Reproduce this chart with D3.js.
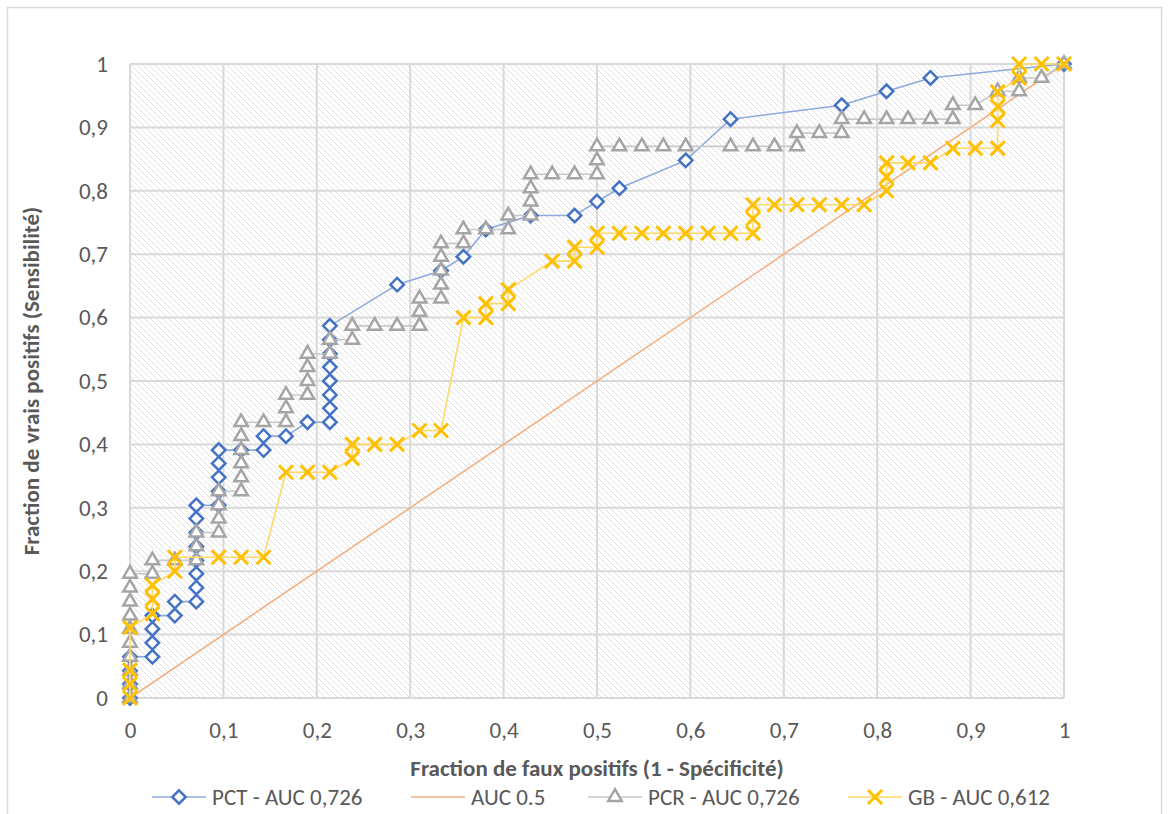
<!DOCTYPE html>
<html lang="fr">
  <head>
    <meta charset="UTF-8" />
    <title>Courbes ROC</title>
    <style>
      body { margin: 0; background: #fff; }
      svg { display: block; font-family: Carlito, Calibri, Lato, sans-serif; }
    </style>
    <script src="https://d3js.org/d3.v7.min.js"></script>
  </head>
  <body>
  <script>
    // tick labels (french decimal comma)
    const tickVals = [0, 0.1, 0.2, 0.3, 0.4, 0.5, 0.6, 0.7, 0.8, 0.9, 1]
    const tickLabels = ["0", "0,1", "0,2", "0,3", "0,4", "0,5", "0,6", "0,7", "0,8", "0,9", "1"]

    const seriesNames = ["PCT - AUC 0,726", "AUC 0.5", "PCR - AUC 0,726", "GB - AUC 0,612"]

    // PCT (blue diamonds)
    const pctX = [0, 0, 0, 0, 0.024, 0.024, 0.024, 0.024, 0.048, 0.048, 0.071, 0.071, 0.071, 0.071, 0.071, 0.071, 0.071, 0.071,
      0.095, 0.095, 0.095, 0.095, 0.095, 0.119, 0.143, 0.143, 0.167, 0.190, 0.214, 0.214, 0.214, 0.214, 0.214, 0.214, 0.214, 0.214,
      0.286, 0.333, 0.357, 0.381, 0.429, 0.476, 0.500, 0.524, 0.595, 0.643, 0.762, 0.810, 0.857, 1]
    const pctY = [0, 0.022, 0.043, 0.065, 0.065, 0.087, 0.109, 0.130, 0.130, 0.152, 0.152, 0.174, 0.196, 0.217, 0.239, 0.261, 0.283, 0.304,
      0.304, 0.326, 0.348, 0.370, 0.391, 0.391, 0.391, 0.413, 0.413, 0.435, 0.435, 0.457, 0.478, 0.500, 0.522, 0.543, 0.565, 0.587,
      0.652, 0.674, 0.696, 0.739, 0.761, 0.761, 0.783, 0.804, 0.848, 0.913, 0.935, 0.957, 0.978, 1]

    // random classifier
    const aucX = [0, 1]
    const aucY = [0, 1]

    // PCR (grey triangles)
    const pcrX = [0, 0, 0, 0, 0, 0, 0, 0, 0, 0, 0.024, 0.024, 0.048, 0.071, 0.071, 0.071, 0.095, 0.095, 0.095, 0.095,
      0.119, 0.119, 0.119, 0.119, 0.119, 0.119, 0.143, 0.167, 0.167, 0.167, 0.190, 0.190, 0.190, 0.190, 0.214, 0.214,
      0.238, 0.238, 0.262, 0.286, 0.310, 0.310, 0.310, 0.333, 0.333, 0.333, 0.333, 0.333, 0.357, 0.357, 0.381, 0.405, 0.405,
      0.429, 0.429, 0.429, 0.429, 0.452, 0.476, 0.500, 0.500, 0.500, 0.524, 0.548, 0.571, 0.595, 0.643, 0.667, 0.690, 0.714,
      0.714, 0.738, 0.762, 0.762, 0.786, 0.810, 0.833, 0.857, 0.881, 0.881, 0.905, 0.929, 0.952, 0.952, 0.976, 1]
    const pcrY = [0, 0.022, 0.043, 0.065, 0.087, 0.109, 0.130, 0.152, 0.174, 0.196, 0.196, 0.217, 0.217, 0.217, 0.239, 0.261, 0.261, 0.283, 0.304, 0.326,
      0.326, 0.348, 0.370, 0.391, 0.413, 0.435, 0.435, 0.435, 0.457, 0.478, 0.478, 0.500, 0.522, 0.543, 0.543, 0.565,
      0.565, 0.587, 0.587, 0.587, 0.587, 0.609, 0.630, 0.630, 0.652, 0.674, 0.696, 0.717, 0.717, 0.739, 0.739, 0.739, 0.761,
      0.761, 0.783, 0.804, 0.826, 0.826, 0.826, 0.826, 0.848, 0.870, 0.870, 0.870, 0.870, 0.870, 0.870, 0.870, 0.870, 0.870,
      0.891, 0.891, 0.891, 0.913, 0.913, 0.913, 0.913, 0.913, 0.913, 0.935, 0.935, 0.957, 0.957, 0.978, 0.978, 1]

    // GB (yellow crosses)
    const gbX = [0, 0, 0, 0, 0.024, 0.024, 0.024, 0.048, 0.048, 0.095, 0.119, 0.143, 0.167, 0.190, 0.214, 0.238, 0.238, 0.262, 0.286,
      0.310, 0.333, 0.357, 0.381, 0.381, 0.405, 0.405, 0.452, 0.476, 0.476, 0.500, 0.500, 0.524, 0.548, 0.571, 0.595, 0.619, 0.643,
      0.667, 0.667, 0.667, 0.690, 0.714, 0.738, 0.762, 0.786, 0.810, 0.810, 0.810, 0.833, 0.857, 0.881, 0.905, 0.929, 0.929, 0.929,
      0.929, 0.952, 0.952, 0.976, 1]
    const gbY = [0, 0.022, 0.044, 0.111, 0.133, 0.156, 0.178, 0.200, 0.222, 0.222, 0.222, 0.222, 0.356, 0.356, 0.356, 0.378, 0.400, 0.400, 0.400,
      0.422, 0.422, 0.600, 0.600, 0.622, 0.622, 0.644, 0.689, 0.689, 0.711, 0.711, 0.733, 0.733, 0.733, 0.733, 0.733, 0.733, 0.733,
      0.733, 0.756, 0.778, 0.778, 0.778, 0.778, 0.778, 0.778, 0.800, 0.822, 0.844, 0.844, 0.844, 0.867, 0.867, 0.867, 0.911, 0.933,
      0.956, 0.978, 1, 1, 1]

    const W = 1168, H = 814
    const plot = { left: 130, right: 1064, top: 64, bottom: 698 }
    const textColor = "#595959"
    const fs = "23px"

    const svg = d3.select("body").append("svg")
        .attr("width", W)
        .attr("height", H)

    svg.append("rect")
        .attr("x", 7.5).attr("y", 7.5)
        .attr("width", 1154).attr("height", 830)
        .attr("fill", "#fff")
        .attr("stroke", "#d9d9d9")
        .attr("stroke-width", 1.5)

    // hatched plot background
    const pat = svg.append("defs").append("pattern")
        .attr("id", "hatch")
        .attr("patternUnits", "userSpaceOnUse")
        .attr("width", 6).attr("height", 6)
    pat.append("rect").attr("width", 6).attr("height", 6).attr("fill", "#fff")
    pat.append("path")
        .attr("d", "M0,0L6,6M-1,5L1,7M5,-1L7,1")
        .attr("stroke", "#e0e0e0")
        .attr("stroke-width", 1)

    const x = d3.scaleLinear().domain([0, 1]).range([plot.left, plot.right])
    const y = d3.scaleLinear().domain([0, 1]).range([plot.bottom, plot.top])

    svg.append("rect")
        .attr("x", plot.left).attr("y", plot.top)
        .attr("width", plot.right - plot.left)
        .attr("height", plot.bottom - plot.top)
        .attr("fill", "url(#hatch)")

    // grid
    const grid = svg.append("g")
    grid.selectAll("line.v").data(tickVals).enter().append("line")
        .attr("x1", d => x(d)).attr("x2", d => x(d))
        .attr("y1", plot.top).attr("y2", plot.bottom)
    grid.selectAll("line.h").data(tickVals).enter().append("line")
        .attr("y1", d => y(d)).attr("y2", d => y(d))
        .attr("x1", plot.left).attr("x2", plot.right)
    grid.selectAll("line")
        .attr("stroke", "#d9d9d9")
        .attr("stroke-width", 2)

    // axes (labels only, like excel)
    const xAxis = svg.append("g")
        .attr("transform", `translate(0,${plot.bottom + 21})`)
        .call(d3.axisBottom(x).tickValues(tickVals).tickFormat((d, i) => tickLabels[i]).tickSize(0))
    const yAxis = svg.append("g")
        .attr("transform", `translate(${plot.left - 14},0)`)
        .call(d3.axisLeft(y).tickValues(tickVals).tickFormat((d, i) => tickLabels[i]).tickSize(0))
    svg.selectAll(".domain").remove()
    svg.selectAll(".tick text")
        .attr("fill", textColor)
        .style("font-size", fs)
        .style("font-family", "Carlito, Calibri, Lato, sans-serif")
    yAxis.selectAll(".tick text").attr("x", -8)

    svg.append("text")
        .attr("x", (plot.left + plot.right) / 2)
        .attr("y", 776)
        .attr("text-anchor", "middle")
        .attr("fill", textColor)
        .style("font-size", fs)
        .style("font-weight", "bold")
        .text("Fraction de faux positifs (1 - Spécificité)")

    svg.append("text")
        .attr("transform", `translate(39,${(plot.top + plot.bottom) / 2}) rotate(-90)`)
        .attr("text-anchor", "middle")
        .attr("fill", textColor)
        .style("font-size", fs)
        .style("font-weight", "bold")
        .text("Fraction de vrais positifs (Sensibilité)")

    // markers
    const diamond = d3.symbol().type(d3.symbolDiamond2).size(115)
    const triangle = d3.symbol().type(d3.symbolTriangle2).size(130)
    const cross = d3.symbol().type(d3.symbolX).size(130)

    const series = [
      { xs: pctX, ys: pctY, line: "#8faadc", mark: "#4472c4", sym: diamond, fill: "#fff" },
      { xs: aucX, ys: aucY, line: "#f4b183", mark: null },
      { xs: pcrX, ys: pcrY, line: "#c9c9c9", mark: "#a5a5a5", sym: triangle, fill: "#fff" },
      { xs: gbX, ys: gbY, line: "#ffd966", mark: "#ffc000", sym: cross, fill: "none" }
    ]

    const line = d3.line().x(d => x(d[0])).y(d => y(d[1]))

    series.forEach(s => {
      const pts = s.xs.map((v, i) => [v, s.ys[i]])
      const g = svg.append("g")
      g.append("path")
          .datum(pts)
          .attr("fill", "none")
          .attr("stroke", s.line)
          .attr("stroke-width", 1.6)
          .attr("d", line)
      if (s.mark) {
        g.selectAll("path.m").data(pts).enter().append("path")
            .attr("class", "m")
            .attr("transform", d => `translate(${x(d[0])},${y(d[1])})`)
            .attr("d", s.sym)
            .attr("fill", s.fill)
            .attr("stroke", s.mark)
            .attr("stroke-width", s.sym === cross ? 3 : 2.5)
      }
    })

    // legend
    const legendStarts = [152, 411, 588, 848]
    const legend = svg.append("g")
    series.forEach((s, i) => {
      const lx = legendStarts[i], ly = 797
      const g = legend.append("g").attr("transform", `translate(${lx},${ly})`)
      g.append("line")
          .attr("x1", 0).attr("x2", 54)
          .attr("y1", 0).attr("y2", 0)
          .attr("stroke", s.line)
          .attr("stroke-width", 1.6)
      if (s.mark) {
        g.append("path")
            .attr("transform", "translate(27,0)")
            .attr("d", s.sym)
            .attr("fill", s.fill)
            .attr("stroke", s.mark)
            .attr("stroke-width", s.sym === cross ? 3 : 2.5)
      }
      g.append("text")
          .attr("x", 60)
          .attr("y", 8)
          .attr("fill", textColor)
          .style("font-size", fs)
          .text(seriesNames[i])
    })
  </script>
  </body>
</html>
